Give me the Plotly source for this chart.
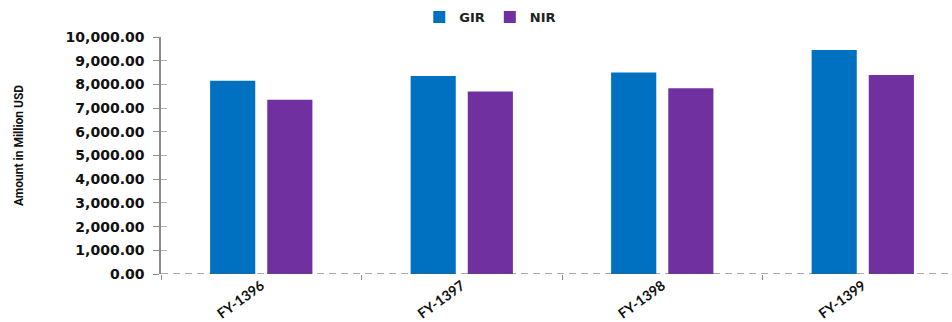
import plotly.graph_objects as go

# Fiscal years and reserve amounts (million USD)
years = ["FY-1396", "FY-1397", "FY-1398", "FY-1399"]
gir = [8150, 8350, 8500, 9450]
nir = [7350, 7700, 7840, 8400]
y_ticks = [0, 1000, 2000, 3000, 4000, 5000, 6000, 7000, 8000, 9000, 10000]
y_tick_text = [f"{v:,.2f}" for v in y_ticks]
y_title = "Amount in Million USD"

BLUE = "#0070C0"
PURPLE = "#7030A0"
AXIS_GREY = "#8a8a8a"

fig = go.Figure()
fig.add_trace(go.Bar(name="GIR", x=years, y=gir, marker=dict(color=BLUE, line=dict(width=0))))
fig.add_trace(go.Bar(name="NIR", x=years, y=nir, marker=dict(color=PURPLE, line=dict(width=0))))

# invisible companion trace so the y-axis ticks can cross the axis line
fig.add_trace(go.Scatter(x=years, y=gir, yaxis="y2", mode="markers",
                         marker=dict(opacity=0), showlegend=False, hoverinfo="skip"))

fig.update_layout(
    width=952, height=322,
    margin=dict(l=161, r=0, t=37, b=48),
    paper_bgcolor="white", plot_bgcolor="white",
    barmode="group", bargap=0.43, bargroupgap=0.21,
    font=dict(family="DejaVu Sans", color="#111111"),
    legend=dict(orientation="h", xref="container", yref="container",
                x=0.515, xanchor="center", y=0.947, yanchor="middle",
                font=dict(family="DejaVu Sans", size=13, color="#222222", weight="bold"),
                itemwidth=30, tracegroupgap=0),
    xaxis=dict(range=[-0.5, 3.445], showline=False, showgrid=False, zeroline=False,
               tickson="boundaries", ticks="outside", ticklen=5, tickcolor=AXIS_GREY,
               tickangle=-36,
               tickfont=dict(family="Lato", size=14, color="#111111", weight="bold")),
    yaxis=dict(range=[0, 10000], tickvals=y_ticks, ticktext=y_tick_text, automargin=False,
               showgrid=False, zeroline=False, showline=True, linecolor=AXIS_GREY,
               linewidth=1.5, ticks="outside", ticklen=6, tickcolor=AXIS_GREY,
               tickwidth=1.2, ticklabelstandoff=6,
               tickfont=dict(family="DejaVu Sans", size=14, color="#111111", weight="bold")),
    yaxis2=dict(overlaying="y", matches="y", side="left", showgrid=False, zeroline=False,
                automargin=False,
                showline=False, ticks="inside", ticklen=6, tickcolor="#b0b0b0",
                tickwidth=1.2, tickvals=y_ticks, showticklabels=False),
)

# vertical axis title
fig.add_annotation(text=y_title, textangle=-90, showarrow=False,
                   xref="paper", yref="paper", x=-0.1795, y=0.54,
                   xanchor="center", yanchor="middle",
                   font=dict(family="Roboto", size=12, color="#111111", weight="bold"))

# dashed baseline along the category axis
fig.add_shape(type="line", xref="paper", yref="y", x0=0, x1=1, y0=0, y1=0,
              line=dict(color="#555555", width=1.2, dash="7px,5px"), layer="above")

fig.write_html("out.html")
